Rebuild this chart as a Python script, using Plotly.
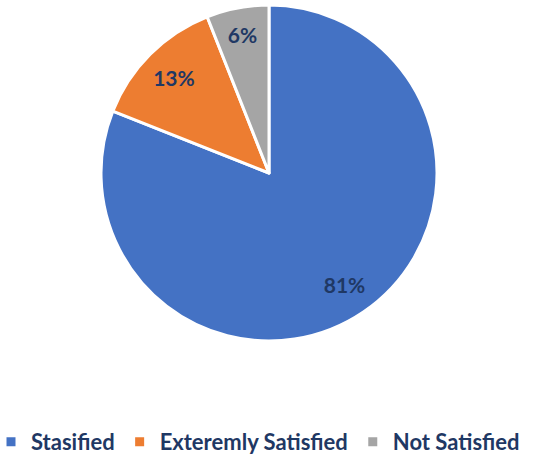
import plotly.graph_objects as go

labels = ["Stasified", "Exteremly Satisfied", "Not Satisfied"]
values = [81, 13, 6]
colors = ["#4472C4", "#ED7D31", "#A5A5A5"]

W, H = 546, 456
cx, cy, r = 269, 173, 168
dom = dict(x=[(cx - r) / W, (cx + r) / W], y=[(H - cy - r) / H, (H - cy + r) / H])
navy = "#1F3864"

fig = go.Figure()
fig.add_trace(go.Pie(
    labels=labels,
    values=values,
    sort=False,
    direction="clockwise",
    rotation=0,
    marker=dict(colors=colors, line=dict(color="white", width=3)),
    textinfo="none",
    domain=dom,
    hoverinfo="label+percent",
))
# transparent ring carrying the data labels so they sit near the rim
fig.add_trace(go.Pie(
    labels=labels,
    values=values,
    sort=False,
    direction="clockwise",
    rotation=0,
    hole=0.6,
    marker=dict(colors=["rgba(0,0,0,0)"] * 3, line=dict(width=0)),
    texttemplate="%{value}%",
    textposition="inside",
    insidetextorientation="horizontal",
    textfont=dict(family="Lato", size=21, color=navy, weight="bold"),
    domain=dom,
    showlegend=False,
    hoverinfo="skip",
))

fig.update_layout(
    width=W, height=H,
    margin=dict(l=0, r=0, t=0, b=0, autoexpand=False),
    paper_bgcolor="white",
    showlegend=True,
    legend=dict(
        orientation="h",
        x=-9 / W, y=-7 / H, xanchor="left", yanchor="bottom",
        font=dict(family="Lato", size=22, color=navy, weight="bold"),
        traceorder="normal",
        itemwidth=30,
    ),
)

fig.write_html("out.html", config={"displayModeBar": False},
               post_script="document.body.style.margin='0';")
